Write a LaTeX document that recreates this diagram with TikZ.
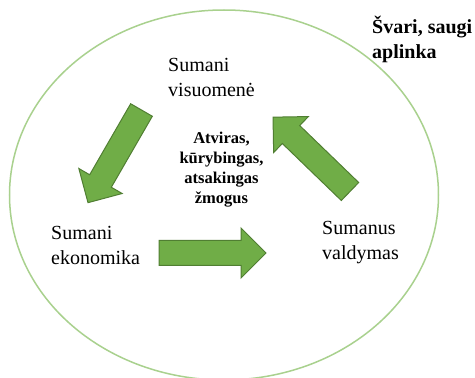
\documentclass[tikz,border=0pt]{standalone}
\usepackage{fontspec}
\setmainfont{Liberation Serif}
\definecolor{ringgreen}{HTML}{A9D18E}
\definecolor{arrfill}{HTML}{70AD47}
\definecolor{arrline}{HTML}{507E32}
\tikzset{
  lblleft/.style={align=left, font=\fontsize{20}{25}\selectfont, inner sep=0pt},
  boldlbl/.style={align=center, font=\fontsize{16.5}{20}\selectfont\bfseries, inner sep=0pt},
  arrowshape/.style={fill=arrfill, draw=arrline, line width=1pt, line join=miter},
  bigarrow/.pic={
    \path[arrowshape] (0,-12.5) -- (82,-12.5) -- (82,-25) -- (107,0) -- (82,25) -- (82,12.5) -- (0,12.5) -- cycle;
  }
}
\begin{document}
\begin{tikzpicture}[x=1pt,y=1pt]
\useasboundingbox (0,0) rectangle (475,378);
\fill[white] (0,0) rectangle (475,378);
\begin{scope}
\clip (0,0) rectangle (475,378);
\draw[ringgreen, line width=1.5pt] (224,183) ellipse [x radius=214.5, y radius=185];
\end{scope}
% labels
\node[lblleft, anchor=north west] (soc) at (168,320) {Sumani\\visuomenė};
\node[lblleft, anchor=north west] (eco) at (51,152) {Sumani\\ekonomika};
\node[lblleft, anchor=north west] (gov) at (322,157) {Sumanus\\valdymas};
\node[boldlbl] (human) at (221.5,208) {Atviras,\\kūrybingas,\\atsakingas\\žmogus};
\node[align=left, font=\fontsize{20}{25}\selectfont\bfseries, inner sep=0pt, anchor=north west] (env) at (372,362) {Švari, saugi\\aplinka};
% arrows
\pic[rotate=240] at (141.5,268) {bigarrow};
\pic at (159,125) {bigarrow};
\pic[rotate=136] at (350,186.5) {bigarrow};
\end{tikzpicture}
\end{document}
